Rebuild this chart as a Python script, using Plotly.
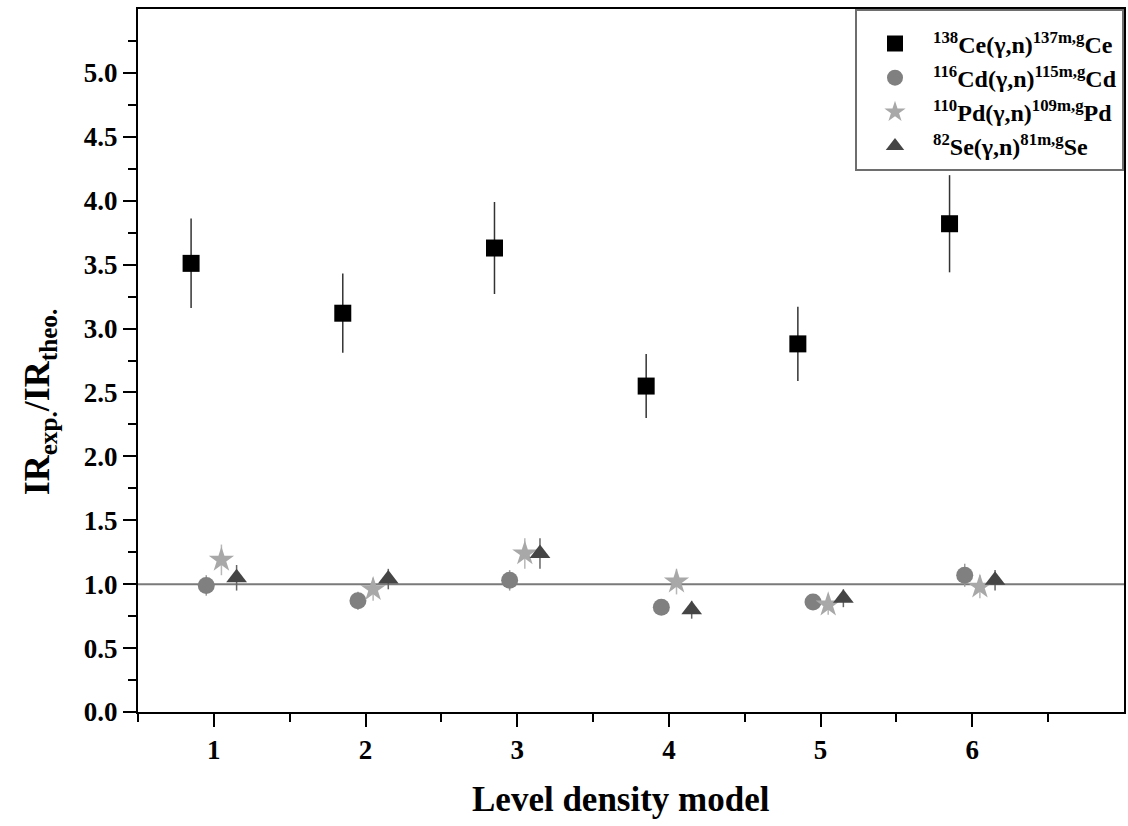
import plotly.graph_objects as go

# ---- data ----
models = [1, 2, 3, 4, 5, 6]
ce_ratio = [3.51, 3.12, 3.63, 2.55, 2.88, 3.82]
ce_err = [0.35, 0.31, 0.36, 0.25, 0.29, 0.38]
cd_ratio = [0.99, 0.87, 1.03, 0.82, 0.86, 1.07]
cd_err = [0.08, 0.07, 0.08, 0.06, 0.06, 0.09]
pd_ratio = [1.19, 0.96, 1.24, 1.02, 0.84, 0.98]
pd_err = [0.12, 0.09, 0.12, 0.10, 0.08, 0.09]
se_ratio = [1.05, 1.04, 1.24, 0.80, 0.89, 1.03]
se_err = [0.10, 0.08, 0.12, 0.07, 0.07, 0.08]
names = [
    "<sup>138</sup>Ce(γ,n)<sup>137m,g</sup>Ce",
    "<sup>116</sup>Cd(γ,n)<sup>115m,g</sup>Cd",
    "<sup>110</sup>Pd(γ,n)<sup>109m,g</sup>Pd",
    "<sup>82</sup>Se(γ,n)<sup>81m,g</sup>Se",
]
x_ticks = [1, 2, 3, 4, 5, 6]
y_ticks = [0, 0.5, 1, 1.5, 2, 2.5, 3, 3.5, 4, 4.5, 5]

FONT = "Liberation Serif"

series = [
    (ce_ratio, ce_err, -0.15, "square", 17, "#000000", "#333333"),
    (cd_ratio, cd_err, -0.05, "circle", 17, "#808080", "#9a9a9a"),
    (pd_ratio, pd_err, 0.05, "star", 19, "#a8a8a8", "#b8b8b8"),
    (se_ratio, se_err, 0.15, "triangle-up", 18, "#454545", "#666666"),
]

fig = go.Figure()
for (vals, errs, off, sym, size, col, ecol), name in zip(series, names):
    fig.add_trace(go.Scatter(
        x=[m + off for m in models], y=vals, mode="markers", name=name,
        marker=dict(symbol=sym, size=size, color=col, line=dict(width=0)),
        error_y=dict(type="data", array=errs, visible=True, color=ecol,
                     thickness=1.5, width=0),
    ))

fig.add_hline(y=1, line=dict(color="#7a7a7a", width=2), layer="below")

axis_common = dict(
    showline=True, mirror=True, linecolor="black", linewidth=2,
    ticks="outside", tickwidth=2, tickcolor="black", ticklen=13,
    showgrid=False, zeroline=False,
    tickfont=dict(family=FONT, size=27, color="black", weight="bold"),
)

fig.update_xaxes(
    range=[0.5, 7], tickmode="array", tickvals=x_ticks,
    minor=dict(tickmode="array", tickvals=[0.5, 1.5, 2.5, 3.5, 4.5, 5.5, 6.5],
               ticks="outside", ticklen=8, tickwidth=2, tickcolor="black"),
    **axis_common,
)
fig.update_yaxes(
    range=[0, 5.5], tickmode="array", tickvals=y_ticks, tickformat=".1f",
    minor=dict(tickmode="array",
               tickvals=[0.25 + 0.5 * i for i in range(11)],
               ticks="outside", ticklen=8, tickwidth=2, tickcolor="black"),
    **axis_common,
)

fig.add_annotation(
    text="IR<sub>exp.</sub>/IR<sub>theo.</sub>", textangle=-90,
    xref="paper", yref="paper", x=-0.099, y=0.441,
    xanchor="center", yanchor="middle", showarrow=False,
    font=dict(family=FONT, size=36, color="black", weight="bold"),
)
fig.add_annotation(
    text="Level density model",
    xref="paper", yref="paper", x=0.49, y=-0.125,
    xanchor="center", yanchor="middle", showarrow=False,
    font=dict(family=FONT, size=35, color="black", weight="bold"),
)

fig.update_layout(
    width=1128, height=826,
    margin=dict(l=138, r=2, t=9, b=114),
    paper_bgcolor="white", plot_bgcolor="white",
    showlegend=True,
    legend=dict(
        x=1, y=1, xanchor="right", yanchor="top",
        bgcolor="white", bordercolor="#6e6e6e", borderwidth=2,
        font=dict(family=FONT, size=24, color="black", weight="bold"),
        itemwidth=66, tracegroupgap=0,
        title=dict(text=" ", font=dict(size=8)),
    ),
)

fig.write_html(
    "out.html",
    config={"displayModeBar": False},
    post_script="document.body.style.margin='0px';"
                "document.body.style.overflow='hidden';",
)
